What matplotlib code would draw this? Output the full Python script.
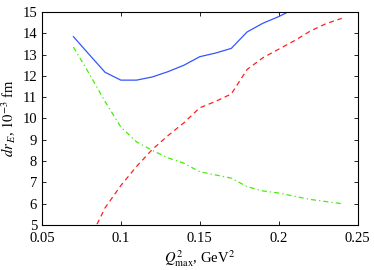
import matplotlib

matplotlib.use("Agg")
import matplotlib.pyplot as plt

q2 = [0.07, 0.08, 0.09, 0.10, 0.11, 0.12, 0.13, 0.14, 0.15, 0.16, 0.17,
      0.18, 0.19, 0.20, 0.21, 0.22, 0.23, 0.24]
blue = [13.84, 13.0, 12.17, 11.8, 11.8, 11.95, 12.2, 12.5, 12.9, 13.07,
        13.29, 14.06, 14.47, 14.78, 15.15]
red = [None, 4.3, 5.8, 6.85, 7.75, 8.55, 9.2, 9.8, 10.5, 10.8, 11.15,
       12.3, 12.85, 13.25, 13.65, 14.1, 14.45, 14.7]
green = [13.35, 12.1, 10.8, 9.6, 8.9, 8.5, 8.15, 7.9, 7.5, 7.35, 7.2,
         6.8, 6.6, 6.5, 6.35, 6.2, 6.1, 6.0]

plt.rcParams["font.family"] = "Liberation Serif"
plt.rcParams["mathtext.fontset"] = "stix"

fig = plt.figure(figsize=(3.74, 2.70), dpi=100)
ax = fig.add_axes([0.112, 0.1667, 0.844, 0.789])

ax.plot(q2[:len(blue)], blue, "-", color="#3355ff", lw=0.9)
ax.plot(q2[1:], red[1:], "--", color="#ff2020", lw=0.9, dashes=(4, 3))
ax.plot(q2, green, "-.", color="#44ee00", lw=0.9, dashes=(4, 2.5, 1, 2.5))

ax.set_xlim(0.05, 0.25)
ax.set_ylim(5, 15)
ax.set_xticks([0.05, 0.1, 0.15, 0.2, 0.25])
ax.set_xticklabels(["0.05", "0.1", "0.15", "0.2", "0.25"])
ax.set_yticks(range(5, 16))
ax.tick_params(direction="in", top=True, right=True, labelsize=10.5, length=3, width=0.6)
ax.tick_params(axis="x", pad=5)
for s in ax.spines.values():
    s.set_linewidth(0.8)

ax.set_xlabel(r"$Q^2_{\rm max}$, GeV$^2$", fontsize=10.5, labelpad=2)
ax.set_ylabel(r"$dr_{\,E}$, $10^{-3}$ fm", fontsize=10.5, labelpad=3)

fig.savefig("out.png", dpi=100)
